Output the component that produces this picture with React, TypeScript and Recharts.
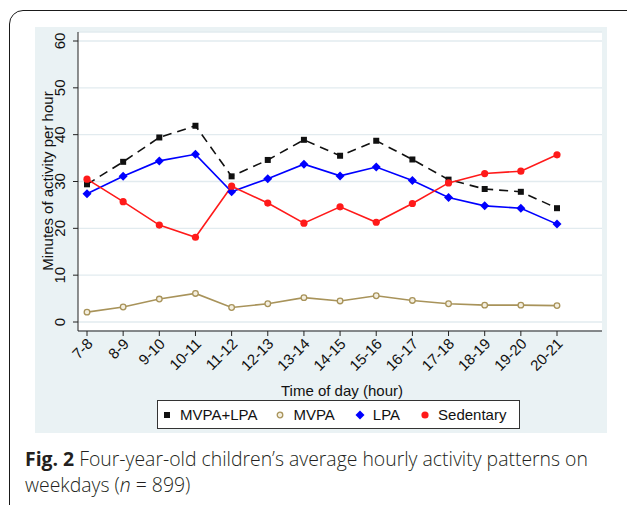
import { LineChart, Line, XAxis, YAxis, CartesianGrid } from 'recharts';

// hourly activity, minutes per hour (weekdays)
const hours = ['7-8', '8-9', '9-10', '10-11', '11-12', '12-13', '13-14', '14-15', '15-16', '16-17', '17-18', '18-19', '19-20', '20-21'];
const mvpaLpa = [29.4, 34.2, 39.4, 41.9, 31.1, 34.6, 38.9, 35.5, 38.7, 34.7, 30.4, 28.4, 27.8, 24.3];
const mvpa = [2.1, 3.2, 4.9, 6.1, 3.1, 3.9, 5.2, 4.5, 5.6, 4.6, 3.9, 3.6, 3.6, 3.5];
const lpa = [27.4, 31.1, 34.4, 35.8, 27.8, 30.6, 33.7, 31.2, 33.1, 30.2, 26.6, 24.8, 24.3, 20.9];
const sedentary = [30.5, 25.7, 20.7, 18.1, 29.0, 25.4, 21.1, 24.6, 21.3, 25.3, 29.7, 31.7, 32.2, 35.7];
const yTicks = [0, 10, 20, 30, 40, 50, 60];

const data = hours.map((hour, i) => ({
  hour,
  mvpaLpa: mvpaLpa[i],
  mvpa: mvpa[i],
  lpa: lpa[i],
  sedentary: sedentary[i],
}));

const OLIVE = '#a8935a';
const BLUE = '#0000ff';
const RED = '#ff1a1a';
const AXIS_FONT = '"Liberation Sans", Arial, sans-serif';

const SquareDot = (p: any) => (
  <rect key={`sq-${p.index}`} x={p.cx - 3} y={p.cy - 3} width={6} height={6} fill="#111" />
);
const HollowDot = (p: any) => (
  <circle key={`ho-${p.index}`} cx={p.cx} cy={p.cy} r={2.8} fill="#f4efe0" stroke={OLIVE} strokeWidth={1.3} />
);
const DiamondDot = (p: any) => (
  <path
    key={`di-${p.index}`}
    d={`M${p.cx},${p.cy - 4.5} L${p.cx + 4.5},${p.cy} L${p.cx},${p.cy + 4.5} L${p.cx - 4.5},${p.cy} Z`}
    fill={BLUE}
  />
);
const RedDot = (p: any) => (
  <circle key={`re-${p.index}`} cx={p.cx} cy={p.cy} r={3.6} fill={RED} />
);

const XTick = ({ x, y, payload }: any) => (
  <text
    x={x + 3}
    y={y + 3}
    transform={`rotate(-45, ${x + 3}, ${y + 3})`}
    textAnchor="end"
    dy="0.35em"
    fontSize={15}
    fontFamily={AXIS_FONT}
    fill="#111"
  >
    {payload.value}
  </text>
);

const YTick = ({ x, y, payload }: any) => (
  <text
    x={x - 6}
    y={y}
    transform={`rotate(-90, ${x - 6}, ${y})`}
    textAnchor="middle"
    fontSize={15}
    fontFamily={AXIS_FONT}
    fill="#111"
  >
    {payload.value}
  </text>
);

const legendItems = [
  { label: 'MVPA+LPA', marker: <rect x={2} y={2} width={6} height={6} fill="#111" /> },
  { label: 'MVPA', marker: <circle cx={5} cy={5} r={2.8} fill="#f4efe0" stroke={OLIVE} strokeWidth={1.3} /> },
  { label: 'LPA', marker: <path d="M5,0.5 L9.5,5 L5,9.5 L0.5,5 Z" fill={BLUE} /> },
  { label: 'Sedentary', marker: <circle cx={5} cy={5} r={3.6} fill={RED} /> },
];

export default function App() {
  return (
    <div style={{ position: 'fixed', left: 0, top: 0, width: 627, height: 505, overflow: 'hidden', background: '#fff' }}>
      {/* rounded figure frame, runs off the right and bottom edges */}
      <div
        style={{
          position: 'absolute',
          left: 9,
          top: 10,
          width: 640,
          height: 520,
          border: '1.5px solid #1a1a1a',
          borderRadius: 14,
        }}
      />
      {/* graph region background */}
      <div style={{ position: 'absolute', left: 35, top: 27, width: 572, height: 406, background: '#eaf2f4' }} />

      <div style={{ position: 'absolute', left: 0, top: 0 }}>
        <LineChart width={627} height={505} data={data} margin={{ top: 32, right: 25, bottom: 114, left: 0 }}>
          <CartesianGrid vertical={false} fill="#fff" stroke="#e2ebef" strokeWidth={1.3} />
          <XAxis
            dataKey="hour"
            scale="point"
            padding={{ left: 9, right: 45 }}
            height={60}
            interval={0}
            tickSize={5}
            stroke="#222"
            tick={<XTick />}
          />
          <YAxis
            domain={[0, 60]}
            ticks={yTicks}
            padding={{ top: 9, bottom: 9 }}
            width={78}
            tickSize={5}
            stroke="#222"
            tick={<YTick />}
          />
          <Line
            dataKey="mvpaLpa"
            stroke="#111"
            strokeWidth={1.6}
            strokeDasharray="9 6"
            dot={SquareDot}
            activeDot={false}
            isAnimationActive={false}
          />
          <Line dataKey="mvpa" stroke={OLIVE} strokeWidth={1.6} dot={HollowDot} activeDot={false} isAnimationActive={false} />
          <Line dataKey="lpa" stroke={BLUE} strokeWidth={1.6} dot={DiamondDot} activeDot={false} isAnimationActive={false} />
          <Line dataKey="sedentary" stroke={RED} strokeWidth={1.6} dot={RedDot} activeDot={false} isAnimationActive={false} />
        </LineChart>
      </div>

      {/* axis titles */}
      <div
        style={{
          position: 'absolute',
          left: 240,
          top: 382,
          width: 204,
          textAlign: 'center',
          fontFamily: AXIS_FONT,
          fontSize: 15,
          lineHeight: '18px',
          color: '#111',
        }}
      >
        Time of day (hour)
      </div>
      <div
        style={{
          position: 'absolute',
          left: 48 - 110,
          top: 181 - 9,
          width: 220,
          textAlign: 'center',
          fontFamily: AXIS_FONT,
          fontSize: 15,
          lineHeight: '18px',
          color: '#111',
          transform: 'rotate(-90deg)',
        }}
      >
        Minutes of activity per hour
      </div>

      {/* legend */}
      <div
        style={{
          position: 'absolute',
          left: 157,
          top: 400,
          width: 363,
          height: 29,
          border: '1px solid #333',
          background: '#fff',
          display: 'flex',
          alignItems: 'center',
          fontFamily: AXIS_FONT,
          fontSize: 15,
          color: '#111',
          boxSizing: 'border-box',
          paddingLeft: 4,
        }}
      >
        {legendItems.map((it, i) => (
          <div key={it.label} style={{ display: 'flex', alignItems: 'center', marginLeft: i === 0 ? 0 : i === 1 ? 18 : 20 }}>
            <svg width={10} height={10} style={{ marginRight: 8 }}>
              {it.marker}
            </svg>
            <span>{it.label}</span>
          </div>
        ))}
      </div>

      {/* caption */}
      <div
        style={{
          position: 'absolute',
          left: 25,
          top: 446,
          fontFamily: '"Open Sans", sans-serif',
          fontSize: 19.4,
          fontWeight: 300,
          lineHeight: '26px',
          color: '#231f20',
          whiteSpace: 'nowrap',
        }}
      >
        <b style={{ fontWeight: 700 }}>Fig. 2</b> Four-year-old children’s average hourly activity patterns on
        <br />
        weekdays (<i>n</i> = 899)
      </div>
    </div>
  );
}
